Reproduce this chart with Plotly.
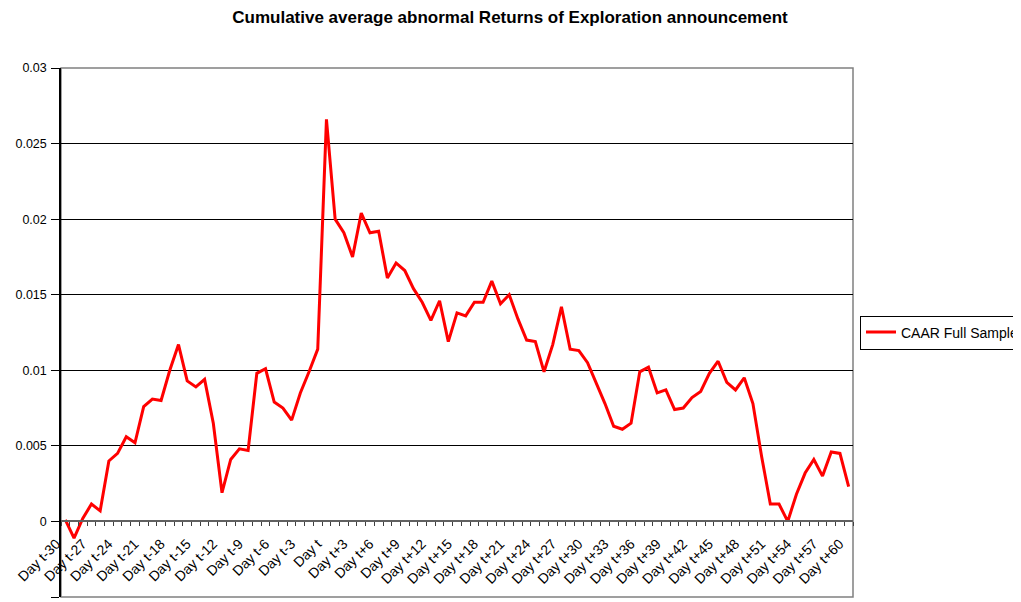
import plotly.graph_objects as go

days = ["Day t-%d" % k for k in range(30, 0, -1)] + ["Day t"] + ["Day t+%d" % k for k in range(1, 61)]

caar = [0.0001, -0.0011, 0.0002, 0.00115, 0.0007, 0.0040, 0.0045, 0.0056, 0.0052, 0.0076,
        0.0081, 0.0080, 0.0100, 0.0117, 0.0093, 0.0089, 0.0094, 0.0065, 0.0019, 0.0041,
        0.0048, 0.0047, 0.0098, 0.0101, 0.0079, 0.0075, 0.0067, 0.0085, 0.0099, 0.0114,
        0.0266, 0.0200, 0.0191, 0.0175, 0.0204, 0.0191, 0.0192, 0.0161, 0.0171, 0.0166,
        0.0154, 0.0145, 0.0133, 0.0146, 0.0119, 0.0138, 0.0136, 0.0145, 0.0145, 0.0159,
        0.0144, 0.0150, 0.0134, 0.0120, 0.0119, 0.0099, 0.0117, 0.0142, 0.0114, 0.0113,
        0.0105, 0.0092, 0.0078, 0.0063, 0.0061, 0.0065, 0.0099, 0.0102, 0.0085, 0.0087,
        0.0074, 0.0075, 0.0082, 0.0086, 0.0098, 0.0106, 0.0092, 0.0087, 0.0095, 0.0078,
        0.0043, 0.00115, 0.00115, 0.0000, 0.0018, 0.0032, 0.0041, 0.0030, 0.0046, 0.0045,
        0.0023]

tick_labels = [d if i % 3 == 0 else "" for i, d in enumerate(days)]
y_ticks = [-0.005, 0, 0.005, 0.01, 0.015, 0.02, 0.025, 0.03]
y_tick_text = ["-0.005", "0", "0.005", "0.01", "0.015", "0.02", "0.025", "0.03"]

W, H = 1013, 594

fig = go.Figure()
fig.add_trace(go.Scatter(x=days, y=caar, mode="lines", name="CAAR Full Sample",
                         line=dict(color="#FF0000", width=3)))

fig.update_layout(
    width=W, height=H,
    margin=dict(l=53, r=168, t=60, b=5, autoexpand=False),
    paper_bgcolor="white", plot_bgcolor="white",
    font=dict(family="Liberation Sans, Arial, sans-serif", color="black", size=13),
    title=dict(text="<b>Cumulative average abnormal Returns of Exploration announcement</b>",
               x=(510 - 8) / W, xanchor="center", y=1 - 9 / H, yanchor="middle",
               font=dict(size=17, color="black")),
    showlegend=True,
    legend=dict(x=(860 - 61) / 792, xanchor="left", y=0.5, yanchor="middle",
                bordercolor="black", borderwidth=1, bgcolor="white",
                font=dict(size=14), itemwidth=30,
                tracegroupgap=0),
    xaxis=dict(type="category", anchor="free", position=1 / 7,
               tickmode="array", tickvals=days, ticktext=tick_labels,
               tickson="boundaries", ticks="outside", ticklen=4, tickcolor="#404040",
               tickangle=-45, showgrid=False, showline=True, linecolor="#606060",
               linewidth=1.5, zeroline=False, tickfont=dict(size=14),
               ticklabelshift=-9, ticklabelstandoff=8,
               range=[-0.5, 90.5], automargin=False),
    yaxis=dict(range=[-0.005, 0.03], tickmode="array", tickvals=y_ticks, ticktext=y_tick_text,
               showgrid=True, gridcolor="black", gridwidth=1, zeroline=False,
               showline=True, linecolor="black", linewidth=1.5, ticks="outside",
               ticklen=8, tickcolor="black", tickfont=dict(size=12.5),
               ticklabelstandoff=2, automargin=False),
    shapes=[dict(type="rect", xref="paper", yref="paper", x0=0, x1=1, y0=0, y1=1,
                 line=dict(color="#808080", width=1.5), layer="below")],
)

fig.write_html("out.html")
